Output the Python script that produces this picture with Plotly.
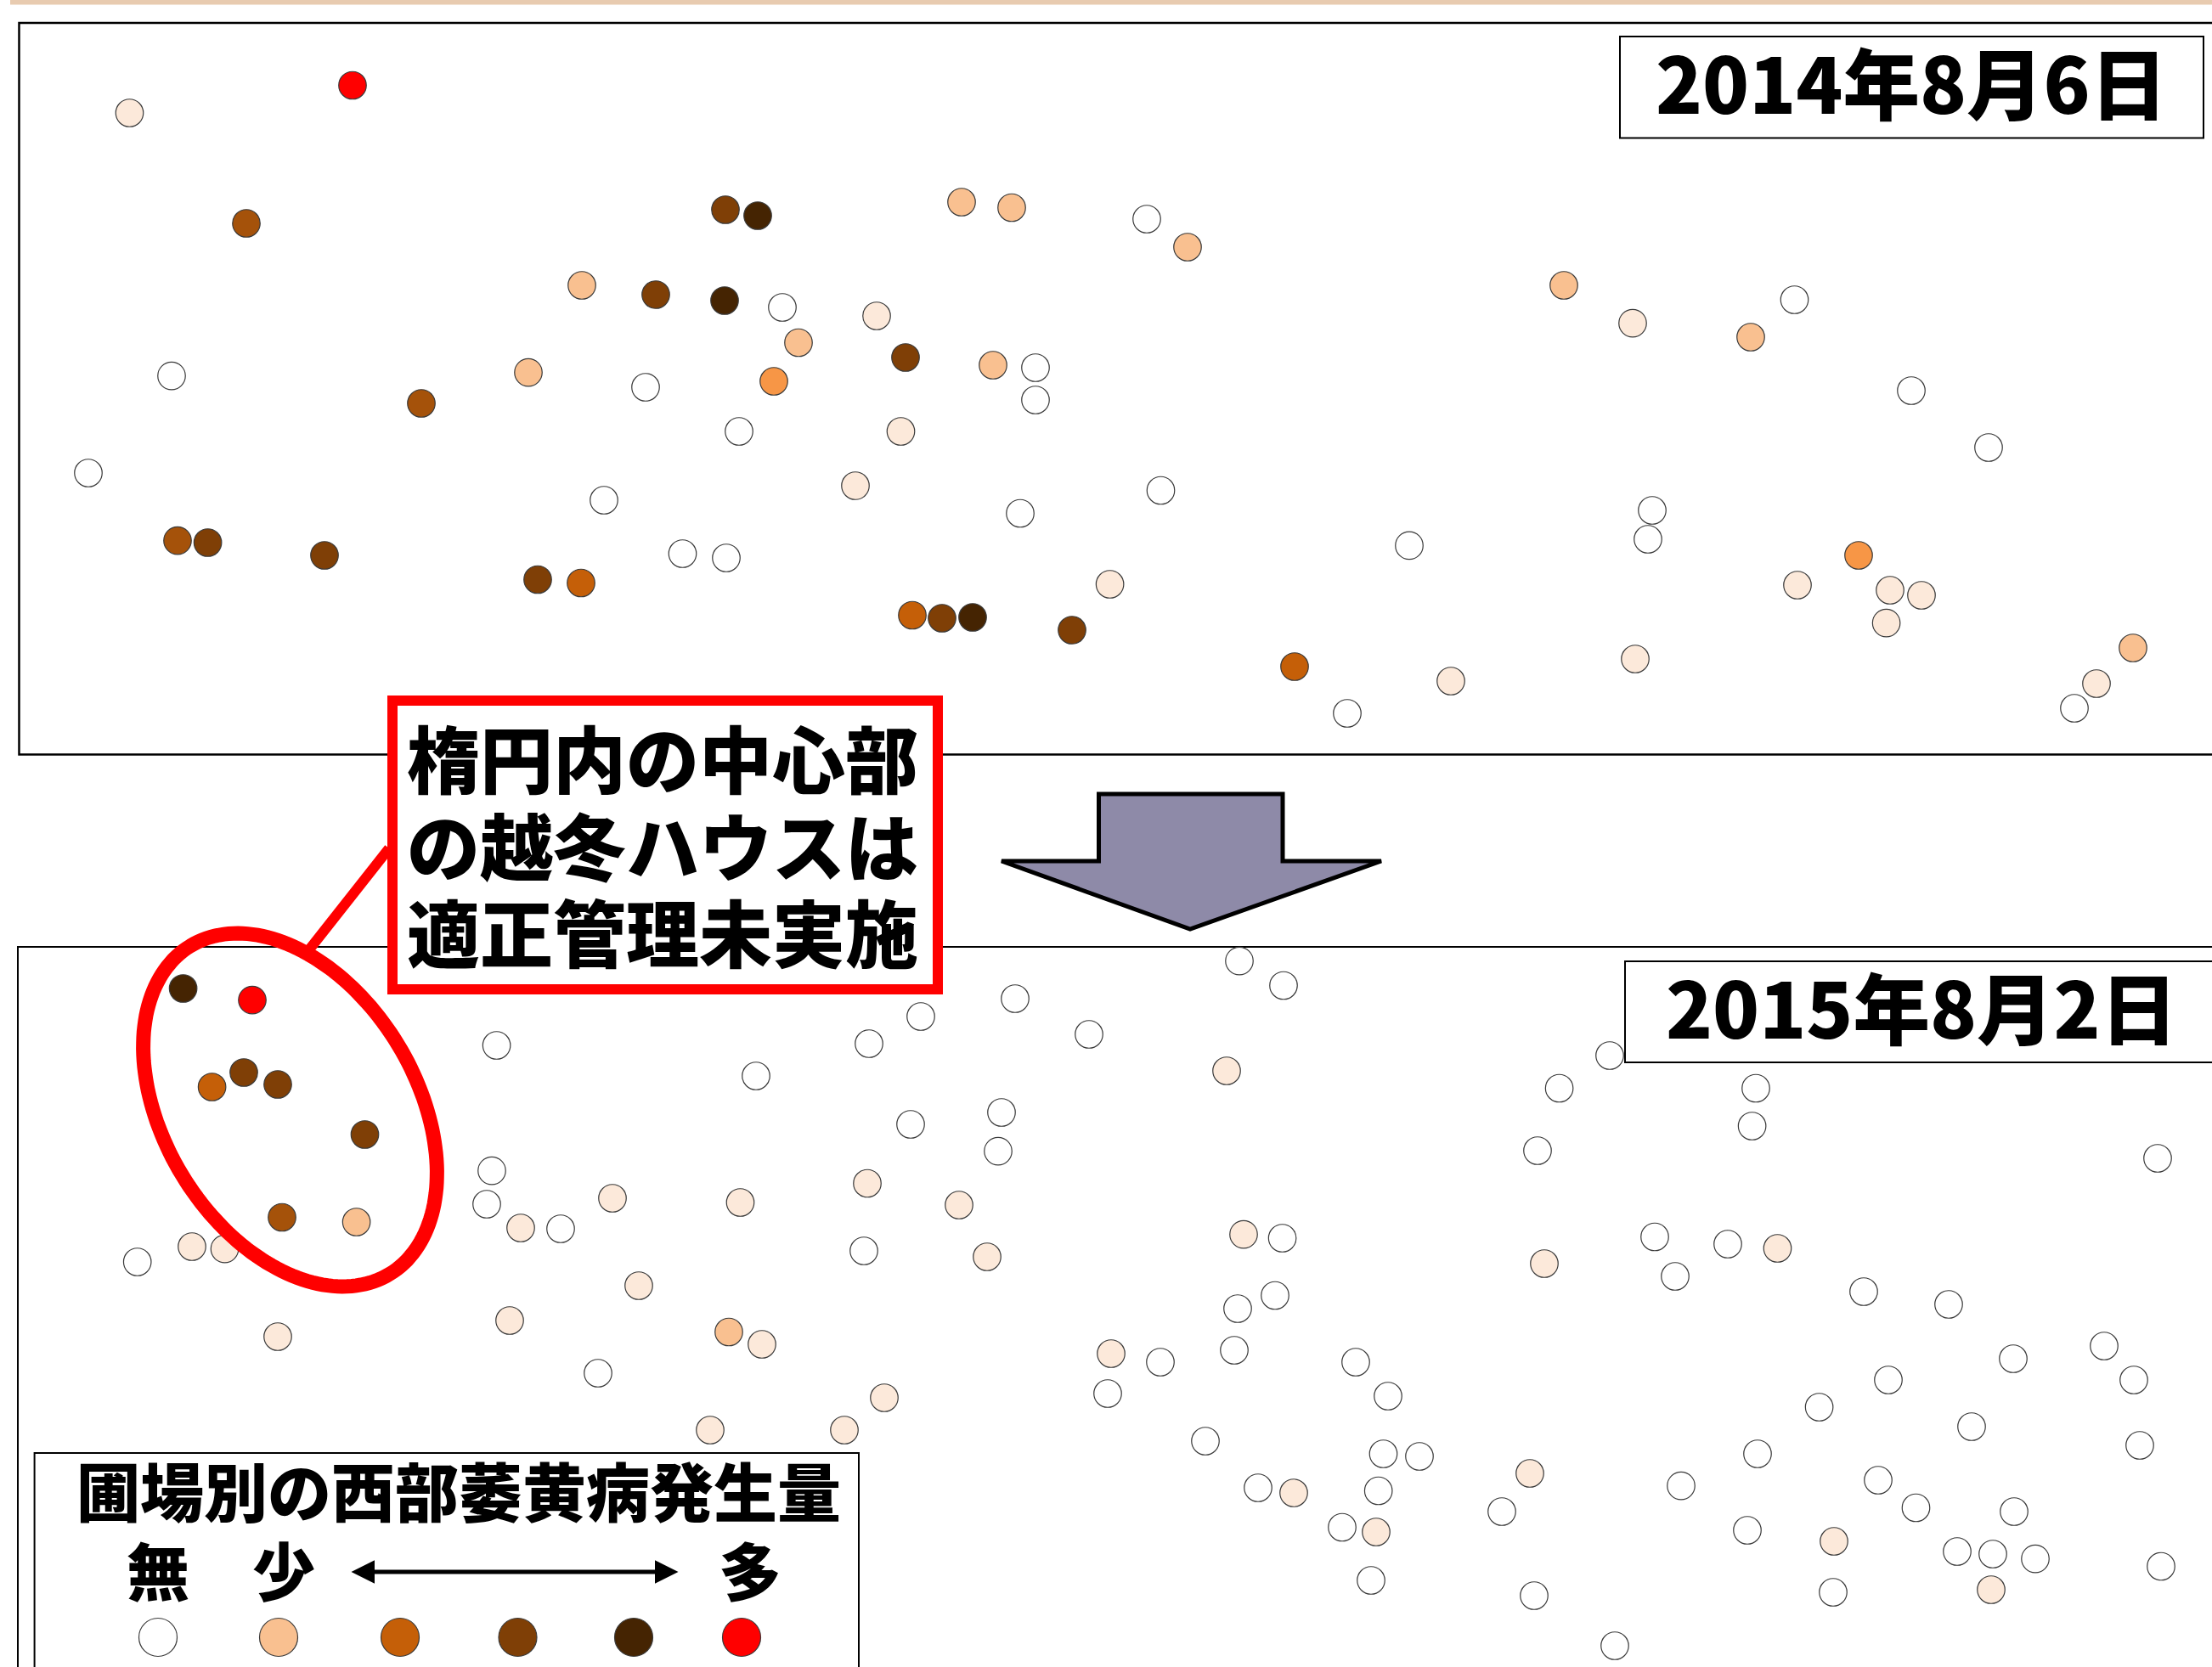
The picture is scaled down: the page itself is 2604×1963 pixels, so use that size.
import numpy as np
import plotly.graph_objects as go

W, H = 2604, 1963
FONT = "Noto Sans CJK JP"

COLORS = ["#FFFFFF", "#FCE9DA", "#F9C090", "#F79646", "#C55F08", "#A5520A", "#7F3F06", "#452402", "#FF0000"]

p1_x = [415,152.5,290,854,892,1132,1191,685,772,853,921,1032,940,1066,1169,1219,1219,202,496,622,760,911,870,1060.5,104,711,1007,1201,209,244.6,382,633,684,803.5,855,1074,1109,1145,1262,1306.6,
        1350,1398,1841,1922,2061,2112.5,2250,2341,1366.5,1945,1940,1659,2188,2116,2225,2262,2220.6,2511,2468,2442,1524,1708,1586,1925]
p1_y = [100.5,133,263,247,254,238,244.5,336,347,354,362,372,403.5,421,430,433,471,442.6,475,438.6,456,449,508,508,557,589,572,604.5,636.6,639,654,682.5,686.5,652,657,724.5,728,727,742,688,
        258,291,336,380.6,397,353,460,527,577.5,601,635,642.4,654,689,695,701,733.6,763,805,834,785,802,840,776]
p1_level = [8,1,5,6,7,2,2,2,6,7,0,1,2,6,2,0,0,0,5,2,0,3,0,1,0,0,1,0,5,6,6,6,4,0,0,4,6,7,6,1,
            0,2,2,1,2,0,0,0,0,0,0,0,3,1,1,1,1,2,1,0,4,1,0,1]

p2_x = [215.6,297,249.6,287,327,429.5,332,419.6,226,264.5,161.7,327,584.6,890,1023,1084,1195,1282,1072,1179,1175,579,573,613,660,721,871.5,1021,1129,1017,1162,752,600,858,897,704,1041,836,994,
        1459,1511,1444,1895,1835.6,2067,2062.6,1810,2540,1464,1509.6,1948,2034,2092.5,1818,1972,2194,2294,1501,1457,1453,1308,1366,1304,1596,1634,1419,2370,2477,2512,2223,2141.6,2321,2519,2069,1628.5,1671,1801,1979,2211,2255.5,2371,1481,1523,1622.7,1580,1620,1768,2057,2159,2304,2346,2396,2544,2344,2158,1614,1806,1901]
p2_y = [1164,1177.6,1280,1263,1277,1336,1433.5,1439,1468,1470.6,1486,1574,1231,1267,1229,1197,1176,1218,1324,1310,1355.6,1378.6,1418,1446,1447,1411,1416,1393.5,1419,1473,1480,1514,1555,1568.5,1583,1617,1646,1684,1684,
        1131.6,1160.5,1261,1243,1281.5,1281.5,1326,1355,1364,1453.6,1458,1456.5,1465,1470,1488,1503,1521,1536,1525.5,1541,1590,1594,1604,1641,1604,1644,1697,1600,1585,1625,1625,1657,1680,1702,1712,1712,1715,1735,1749.6,1743,1775.5,1780,1752,1758,1755.5,1798.5,1804,1780,1802,1815,1827,1830,1835.6,1844.5,1872,1875,1861,1879,1938]
p2_level = [7,8,4,6,6,6,5,2,1,1,0,1,0,0,0,0,0,0,0,0,0,0,0,1,0,1,1,1,1,0,1,1,1,2,1,0,1,1,1,
            0,0,1,0,0,0,0,0,0,1,0,0,0,1,1,0,0,0,0,0,0,1,0,0,0,0,0,0,0,0,0,0,0,0,0,0,0,1,0,0,0,0,0,1,0,0,1,0,0,1,0,0,0,0,1,0,0,0,0]

legend_x = [186, 328, 471, 609.5, 746, 873]
legend_y = [1928, 1928, 1928, 1928, 1928, 1928]
legend_level = [0, 2, 4, 6, 7, 8]

date_labels = ["2014年8月6日", "2015年8月2日"]
callout_lines = ["楕円内の中心部", "の越冬ハウスは", "適正管理未実施"]
legend_title = "圃場別の西部萎黄病発生量"
legend_words = ["無", "少", "多"]

fig = go.Figure()

def add_points(xs, ys, levels, size, name):
    fig.add_trace(go.Scatter(
        x=xs, y=ys, mode="markers", name=name, hoverinfo="skip",
        marker=dict(size=size, color=[COLORS[l] for l in levels],
                    line=dict(color="#3A3A3A", width=1.2)),
    ))

add_points(p1_x, p1_y, p1_level, 32.5, "2014")
add_points(p2_x, p2_y, p2_level, 32.5, "2015")
add_points(legend_x, legend_y, legend_level, 45, "legend")

def rect(x0, y0, x1, y1, color="black", width=2, fill=None, layer="above"):
    return dict(type="rect", x0=x0, y0=y0, x1=x1, y1=y1, layer=layer,
                line=dict(color=color, width=width), fillcolor=fill or "rgba(0,0,0,0)")

def path(d, color="black", width=2, fill=None, layer="above"):
    return dict(type="path", path=d, layer=layer,
                line=dict(color=color, width=width), fillcolor=fill or "rgba(0,0,0,0)")

# rotated ellipse around the central fields
t = np.linspace(0, 2 * np.pi, 181)
th = np.radians(31.3)
a, b = 226, 148.5
ex = 341.5 - a * np.cos(t) * np.sin(th) + b * np.sin(t) * np.cos(th)
ey = 1307 - a * np.cos(t) * np.cos(th) - b * np.sin(t) * np.sin(th)
ell = "M " + " L ".join(f"{x:.1f},{y:.1f}" for x, y in zip(ex, ey)) + " Z"

shapes = [
    dict(type="rect", x0=12, y0=-2, x1=W + 5, y1=5.5, layer="below", line=dict(width=0), fillcolor="#E8CBB0"),
    rect(22.5, 27, W + 20, 888.5, width=2.5, layer="below"),
    rect(21, 1115, W + 20, H + 20, width=2, layer="below"),
    rect(1907, 43, 2594, 162.5, width=2, fill="white"),
    rect(1913, 1132, W + 20, 1251, width=2, fill="white"),
    rect(40.6, 1711, 1011, H + 20, width=2, fill="white", layer="below"),
    path("M 1293.5,935 L 1510,935 L 1510,1014 L 1626,1014 L 1401,1094 L 1179,1014 L 1293.5,1014 Z",
         width=5, fill="#8E8AA8"),
    dict(type="line", x0=458, y0=999, x1=365, y1=1117, layer="above", line=dict(color="#FF0000", width=12)),
    path(ell, color="#FF0000", width=17),
    rect(462, 825, 1104, 1165, color="#FF0000", width=12, fill="white"),
]

annotations = []
def text(x, y, s, size):
    annotations.append(dict(x=x, y=y, text=s, showarrow=False, xanchor="center", yanchor="middle",
                            font=dict(family=FONT, size=size, color="black", weight=900)))

text(2250, 94, date_labels[0], 90.5)
text(2262, 1183, date_labels[1], 90.5)
for s, yy in zip(callout_lines, [890, 993, 1095]):
    text(780, yy, s, 86)
text(540, 1753, legend_title, 75)
for s, xx in zip(legend_words, [186, 334, 883]):
    text(xx, 1846, s, 74)

# double-headed arrow
annotations.append(dict(x=798.5, y=1851, ax=412, ay=1851, xref="x", yref="y", axref="x", ayref="y",
                        text="", showarrow=True, arrowhead=2, startarrowhead=2, arrowside="end+start",
                        arrowsize=1.1, startarrowsize=1.1, arrowwidth=5, arrowcolor="black",
                        standoff=0, startstandoff=0))

fig.update_layout(
    width=W, height=H, margin=dict(l=0, r=0, t=0, b=0), showlegend=False,
    paper_bgcolor="white", plot_bgcolor="white",
    xaxis=dict(range=[0, W], visible=False, fixedrange=True),
    yaxis=dict(range=[H, 0], visible=False, fixedrange=True),
    shapes=shapes, annotations=annotations,
)
fig.write_html("out.html", config={"displayModeBar": False},
               post_script="document.body.style.margin='0';document.documentElement.style.overflow='hidden';")
